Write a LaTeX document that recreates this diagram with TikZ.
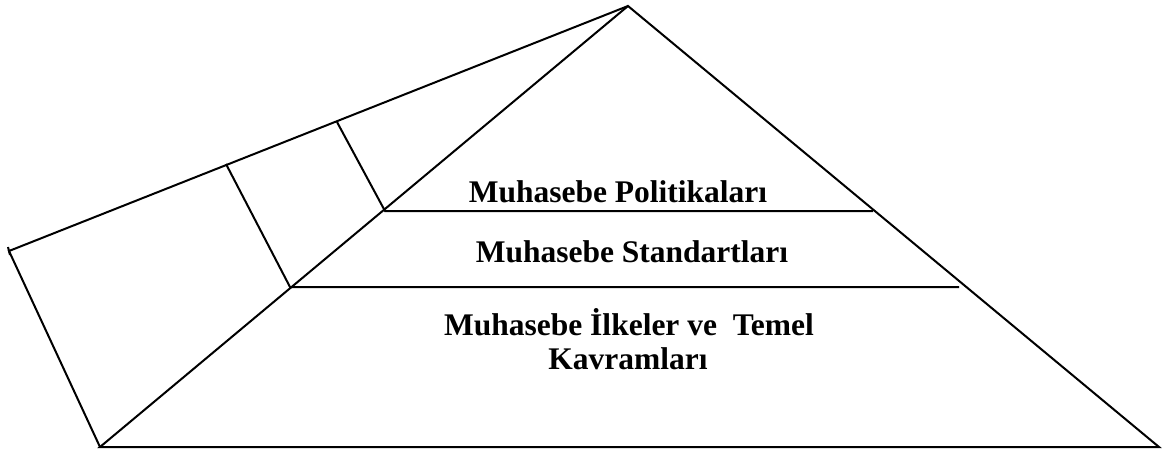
\documentclass[tikz,border=0pt]{standalone}
\usepackage{fontspec}
\setmainfont{Liberation Serif}
\begin{document}
\begin{tikzpicture}[x=1pt,y=-1pt,
  edge/.style={line width=2pt,line join=miter},
  lbl/.style={font=\bfseries\fontsize{31.5}{39}\selectfont,inner sep=0pt,anchor=base}]
\useasboundingbox (0,0) rectangle (1172,455);
\coordinate (apex) at (628,6);
\coordinate (bl) at (100,447);
\coordinate (br) at (1159,447);
\coordinate (lo) at (9,251);
\coordinate (u1) at (337,122);
\coordinate (d1) at (385,211);
\coordinate (e1) at (873,211);
\coordinate (u2) at (226,164);
\coordinate (d2) at (290,287);
\coordinate (e2) at (959,287);
\draw[edge] (apex) -- (bl) -- (br) -- cycle;
\draw[edge] (apex) -- (lo) -- (bl);
\draw[edge] (8,247) -- (10,255);
\draw[edge] (u1) -- (d1) -- (e1);
\draw[edge] (u2) -- (d2) -- (e2);
\node[lbl] (t1) at (618,202) {Muhasebe Politikaları};
\node[lbl] (t2) at (632,262) {Muhasebe Standartları};
\node[lbl] (t3) at (629,335) {Muhasebe İlkeler ve\ \ Temel};
\node[lbl] (t4) at (628,369) {Kavramları};
\end{tikzpicture}
\end{document}
